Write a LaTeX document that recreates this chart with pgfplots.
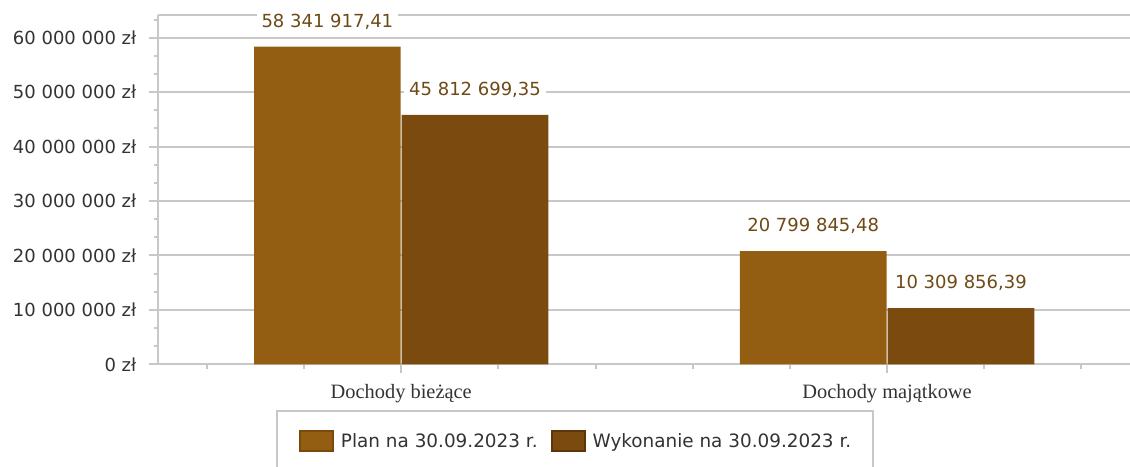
\documentclass[border=0pt]{standalone}
\usepackage{fontspec}
\setmainfont{DejaVu Sans}
\newfontfamily\timesf{Liberation Serif}
\usepackage{pgfplots}
\pgfplotsset{compat=1.18}
\definecolor{gridgray}{HTML}{C8C8C8}
\definecolor{txt}{HTML}{333333}
\definecolor{planc}{HTML}{935D12}
\definecolor{planb}{HTML}{7B4A0A}
\definecolor{wykc}{HTML}{7A4A0E}
\definecolor{wykb}{HTML}{5C3608}
\definecolor{valc}{HTML}{6F4A16}
\begin{document}
\begin{tikzpicture}
\useasboundingbox (0,0) rectangle (565pt,233pt);
\begin{axis}[
    at={(79.15pt,50.85pt)}, anchor=south west,
    scale only axis,
    width=485.85pt, height=174.4pt,
    ybar,
    bar width=0.302,
    xmin=-0.5, xmax=1.5,
    ymin=0, ymax=64.08,
    axis x line=bottom, axis y line=left,
    axis line style={-, draw=gridgray, line width=1pt},
    tick align=outside,
    tick style={draw=gridgray, line width=1pt},
    major tick length=4.5pt, minor tick length=2.2pt,
    xtick={0,1},
    xticklabels={Dochody bieżące, Dochody majątkowe},
    minor xtick={-0.4,-0.2,0.2,0.4,0.6,0.8,1.2,1.4},
    ytick={0,10,...,60},
    yticklabels={0 zł, 10 000 000 zł, 20 000 000 zł, 30 000 000 zł, 40 000 000 zł, 50 000 000 zł, 60 000 000 zł},
    minor ytick={3.333,6.667,13.333,16.667,23.333,26.667,33.333,36.667,43.333,46.667,53.333,56.667,63.333},
    extra y ticks={64.08}, extra y tick labels={},
    extra y tick style={ymajorgrids=true, major tick length=0pt},
    ymajorgrids,
    major grid style={draw=gridgray, line width=1pt},
    yticklabel style={font=\fontsize{9}{11}\selectfont, text=txt, anchor=east, inner sep=0pt, xshift=-6.3pt},
    xticklabel style={font=\timesf\fontsize{10.2}{12}\selectfont, text=txt, anchor=base, inner sep=0pt, yshift=-12.6pt},
    clip=false,
    point meta=explicit symbolic,
    nodes near coords,
    nodes near coords style={font=\fontsize{9}{11}\selectfont, text=valc, fill=white, inner xsep=2.4pt, inner ysep=1pt, anchor=base, yshift=9.7pt},
    legend columns=2,
    legend style={at={(0.1211,-0.131)}, anchor=north west, draw=gridgray, line width=1pt,
        inner xsep=11pt, inner ysep=9.5pt, font=\fontsize{9.2}{11}\selectfont, text=txt,
        nodes={inner sep=0pt, text height=6.7pt, text depth=0pt},
        /tikz/every odd column/.append style={column sep=3.5pt},
        /tikz/every even column/.append style={column sep=6.5pt}},
]
\addplot[fill=planc, draw=none, bar shift=-0.152,
    legend image code/.code={\draw[fill=planc, draw=planb, line width=1pt] (0.5pt,-5pt) rectangle (17pt,5pt);}]
    coordinates {(0,58.34191741) [58 341 917,41] (1,20.79984548) [20 799 845,48]};
\addplot[fill=wykc, draw=none, bar shift=0.152,
    legend image code/.code={\draw[fill=wykc, draw=wykb, line width=1pt] (0.5pt,-5pt) rectangle (17pt,5pt);}]
    coordinates {(0,45.81269935) [45 812 699,35] (1,10.30985639) [10 309 856,39]};
\legend{Plan na 30.09.2023 r., Wykonanie na 30.09.2023 r.}
\end{axis}
\end{tikzpicture}
\end{document}
